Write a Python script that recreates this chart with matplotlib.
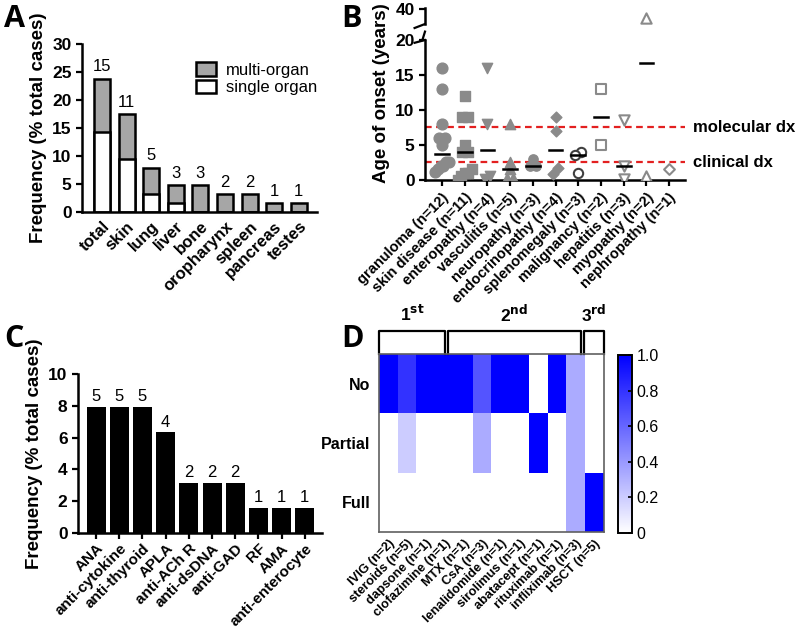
import numpy as np
import matplotlib
matplotlib.use("Agg")
import matplotlib.pyplot as plt
from matplotlib.colors import LinearSegmentedColormap
from matplotlib.patches import Patch
from matplotlib.transforms import blended_transform_factory

plt.rcParams['font.family'] = ['Liberation Sans', 'DejaVu Sans']

# ---------------- data ----------------
total_cases = 63

# panel A: organ involvement (case counts)
organs = ['total', 'skin', 'lung', 'liver', 'bone', 'oropharynx', 'spleen', 'pancreas', 'testes']
organ_all = [15, 11, 5, 3, 3, 2, 2, 1, 1]
organ_single = [9, 6, 2, 1, 0, 0, 0, 0, 0]

# panel B: age of onset (years) per manifestation
manif = ['granuloma (n=12)', 'skin disease (n=11)', 'enteropathy (n=4)', 'vasculitis (n=5)',
         'neuropathy (n=3)', 'endocrinopathy (n=4)', 'splenomegaly (n=3)', 'malignancy (n=2)',
         'hepatitis (n=3)', 'myopathy (n=2)', 'nephropathy (n=1)']
onset = [
    [16, 13, 8, 6, 6, 5, 2.5, 2.5, 2, 2, 1.5, 1.2],
    [12, 9, 9, 5, 4, 4, 1.5, 1, 1, 0.5, 0],
    [16, 8, 0.5, 0.2],
    [8, 2.5, 1.5, 0.3, 0.3],
    [3, 2, 2],
    [9, 7, 1.7, 0.9],
    [4, 3.5, 1],
    [13, 5],
    [8.5, 2, 0.2],
    [33, 0.5],
    [1.5],
]
molecular_dx = 7.5
clinical_dx = 2.5

# panel C: autoantibodies (case counts)
antibodies = ['ANA', 'anti-cytokine', 'anti-thyroid', 'APLA', 'anti-ACh R', 'anti-dsDNA',
              'anti-GAD', 'RF', 'AMA', 'anti-enterocyte']
antibody_n = [5, 5, 5, 4, 2, 2, 2, 1, 1, 1]

# panel D: treatment response fraction
treatments = ['IVIG (n=2)', 'steroids (n=5)', 'dapsone (n=1)', 'clofazimine (n=1)', 'MTX (n=1)',
              'CsA (n=3)', 'lenalidomide (n=1)', 'sirolimus (n=1)', 'abatacept (n=1)',
              'rituximab (n=1)', 'infliximab (n=3)', 'HSCT (n=5)']
response_rows = ['No', 'Partial', 'Full']
resp_no = [1, 0.8, 1, 1, 1, 0.67, 1, 1, 0, 1, 0.33, 0]
resp_partial = [0, 0.2, 0, 0, 0, 0.33, 0, 0, 1, 0, 0.33, 0]
resp_full = [0, 0, 0, 0, 0, 0, 0, 0, 0, 0, 0.33, 1]
line_labels = [r'1$^{\mathbf{st}}$', r'2$^{\mathbf{nd}}$', r'3$^{\mathbf{rd}}$']

W, H = 800, 629
fig = plt.figure(figsize=(W / 100, H / 100), dpi=100)


def px_axes(l, t, r, b):
    return fig.add_axes([l / W, 1 - b / H, (r - l) / W, (b - t) / H])


def style(ax):
    for s in ['top', 'right']:
        ax.spines[s].set_visible(False)
    for s in ['left', 'bottom']:
        ax.spines[s].set_linewidth(1.8)
    ax.tick_params(width=1.6, length=4, labelsize=12.5)
    for lab in ax.get_yticklabels():
        lab.set_fontweight('bold')


GRAY = '#a6a6a6'

# ---------------- A ----------------
axA = px_axes(82, 44, 317, 212)
pct_all = np.array(organ_all) / total_cases * 100
pct_single = np.array(organ_single) / total_cases * 100
xA = np.arange(len(organs))
axA.bar(xA, pct_all, width=0.65, color=GRAY, edgecolor='black', linewidth=1.8)
axA.bar(xA, pct_single, width=0.65, color='white', edgecolor='black', linewidth=1.8)
for x, p, n in zip(xA, pct_all, organ_all):
    axA.text(x, p + 0.8, str(n), ha='center', va='bottom', fontsize=12)
axA.set_xlim(-0.81, 8.74)
axA.set_ylim(0, 30)
axA.set_yticks([0, 5, 10, 15, 20, 25, 30])
axA.set_xticks(xA)
axA.set_xticklabels(organs, rotation=45, ha='right', rotation_mode='anchor', fontweight='bold')
style(axA)
axA.tick_params(axis='x', length=0, pad=5, labelsize=12)
axA.set_ylabel('Frequency (% total cases)', fontsize=13.5, fontweight='bold')
axA.legend(handles=[Patch(facecolor=GRAY, edgecolor='black', linewidth=1.8, label='multi-organ'),
                    Patch(facecolor='white', edgecolor='black', linewidth=1.8, label='single organ')],
           loc='upper right', bbox_to_anchor=(1.03, 0.93), borderaxespad=0, frameon=False,
           fontsize=12, handlelength=1.2, handleheight=0.85, labelspacing=0.1, handletextpad=0.6)

# ---------------- B ----------------
axB = px_axes(425, 40, 685, 180)
axBt = px_axes(425, 8, 685, 24)


def spread(vals, tol=1.0, step=0.25, maxw=0.6):
    vals = np.asarray(vals, float)
    order = np.argsort(vals)
    off = np.zeros(len(vals))
    groups, cur = [], [order[0]]
    for i in order[1:]:
        if vals[i] - vals[cur[-1]] < tol:
            cur.append(i)
        else:
            groups.append(cur)
            cur = [i]
    groups.append(cur)
    for g in groups:
        k = len(g)
        if k == 1:
            continue
        s = min(step, maxw / (k - 1))
        for j, idx in enumerate(g):
            off[idx] = (j - (k - 1) / 2) * s
    return off


markers = ['o', 's', 'v', '^', 'o', 'D', 'o', 's', 'v', '^', 'D']
filled = [True, True, True, True, True, True, False, False, False, False, False]
msize = [60, 55, 55, 55, 45, 30, 45, 55, 55, 55, 30]
for i, vals in enumerate(onset):
    vals = np.asarray(vals, float)
    xs = i + spread(vals)
    if filled[i]:
        kw = dict(facecolor='#8a8a8a', edgecolor='#8a8a8a')
    else:
        ec = '#404040' if i == 6 else '#8a8a8a'
        kw = dict(facecolor='white', edgecolor=ec, linewidths=1.5)
    for ax in (axB, axBt):
        ax.scatter(xs, vals, marker=markers[i], s=msize[i], zorder=3, clip_on=True, **kw)
    med = np.median(vals)
    if len(vals) > 1:
        axB.plot([i - 0.3, i + 0.3], [med, med], color='black', lw=1.8, zorder=4)

for yv in (molecular_dx, clinical_dx):
    axB.axhline(yv, color='#e32020', ls=(0, (3, 2)), lw=1.6, zorder=2)
trB = blended_transform_factory(axB.transAxes, axB.transData)
axB.text(1.03, molecular_dx, 'molecular dx', transform=trB, va='center', ha='left',
         fontsize=12, fontweight='bold')
axB.text(1.03, clinical_dx, 'clinical dx', transform=trB, va='center', ha='left',
         fontsize=12, fontweight='bold')

axB.set_xlim(-0.75, 10.7)
axB.set_ylim(0, 20)
axB.set_yticks([0, 5, 10, 15, 20])
axB.set_xticks(np.arange(len(manif)))
axB.set_xticklabels(manif, rotation=45, ha='right', rotation_mode='anchor', fontweight='bold')
style(axB)
axB.tick_params(axis='x', labelsize=10.5)
axB.set_ylabel('Age of onset (years)', fontsize=13.5, fontweight='bold', y=0.62)

axBt.set_xlim(-0.75, 10.7)
axBt.set_ylim(28, 41)
axBt.set_yticks([40])
axBt.set_xticks([])
style(axBt)
axBt.spines['bottom'].set_visible(False)
# break marks
kw = dict(color='black', lw=1.6, clip_on=False)
axBt.plot([-0.04, 0.0], [-0.25, 0.0], transform=axBt.transAxes, **kw)
axB.plot([-0.01, 0.0], [1.0, 1.06], transform=axB.transAxes, **kw)
axB.plot([-0.04, 0.0], [0.98, 1.0], transform=axB.transAxes, **kw)

# ---------------- C ----------------
axC = px_axes(78, 374, 322, 533)
pct_ab = np.array(antibody_n) / total_cases * 100
xC = np.arange(len(antibodies))
axC.bar(xC, pct_ab, width=0.82, color='black')
for x, p, n in zip(xC, pct_ab, antibody_n):
    axC.text(x, p + 0.15, str(n), ha='center', va='bottom', fontsize=12)
axC.set_xlim(-0.78, 9.74)
axC.set_ylim(0, 10)
axC.set_yticks([0, 2, 4, 6, 8, 10])
axC.set_xticks(xC)
axC.set_xticklabels(antibodies, rotation=45, ha='right', rotation_mode='anchor', fontweight='bold')
style(axC)
axC.tick_params(axis='x', labelsize=11, pad=2)
axC.set_ylabel('Frequency (% total cases)', fontsize=13.5, fontweight='bold')

# ---------------- D ----------------
axD = px_axes(379, 354, 604, 532)
cax = px_axes(618, 355, 632, 533)
cmap = LinearSegmentedColormap.from_list('wb', ['white', '#0000ff'])
mat = np.array([resp_no, resp_partial, resp_full])
im = axD.imshow(mat, cmap=cmap, vmin=0, vmax=1, aspect='auto', interpolation='nearest')
axD.set_xticks(np.arange(len(treatments)))
axD.set_xticklabels(treatments, rotation=45, ha='right', rotation_mode='anchor',
                    fontweight='bold', fontsize=9.2)
axD.set_yticks(np.arange(3))
axD.set_yticklabels(response_rows, fontweight='bold', fontsize=11.5)
axD.tick_params(length=0, pad=6)
axD.tick_params(axis='x', pad=4)
for s in axD.spines.values():
    s.set_color('#606060')
    s.set_linewidth(1.2)

# treatment-line brackets
spans = [(-0.5, 3.02), (3.18, 10.27), (10.43, 11.5)]
for (a, b), lab in zip(spans, line_labels):
    axD.plot([a, a, b, b], [-0.5, -0.88, -0.88, -0.5], color='black', lw=1.6, clip_on=False)
    axD.text((a + b) / 2, -1.0, lab, ha='center', va='bottom', fontsize=12.5, fontweight='bold')
axD.set_xlim(-0.5, 11.5)
axD.set_ylim(2.5, -0.5)

cb = fig.colorbar(im, cax=cax, ticks=[0, 0.2, 0.4, 0.6, 0.8, 1.0])
cb.ax.set_yticklabels(['0', '0.2', '0.4', '0.6', '0.8', '1.0'])
cb.ax.tick_params(labelsize=11.5, direction='in', length=3, width=1.2)
cb.outline.set_linewidth(1.4)

# panel letters
for lab, x, y in [('A', 4, 4), ('B', 341, 4), ('C', 4, 324), ('D', 341, 324)]:
    fig.text(x / W, 1 - y / H, lab, fontsize=22, fontweight='bold', ha='left', va='top',
             family=['Open Sans', 'DejaVu Sans'])

fig.savefig('out.png', dpi=100)
